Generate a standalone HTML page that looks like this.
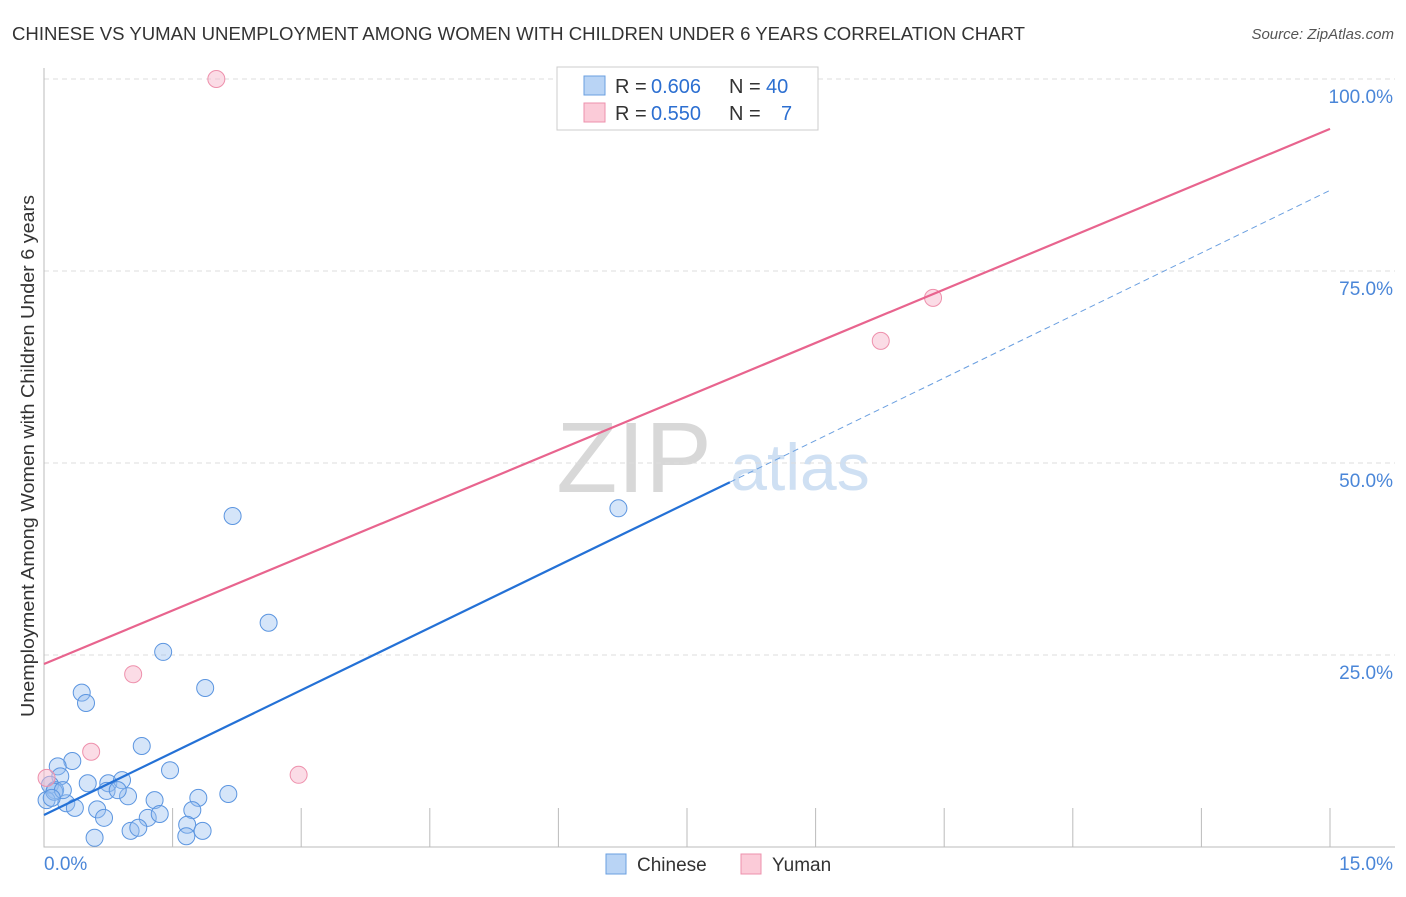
<!DOCTYPE html>
<html><head><meta charset="utf-8"><style>
body{margin:0;background:#fff;font-family:"Liberation Sans",sans-serif;}
svg text{font-family:"Liberation Sans",sans-serif;}
</style></head><body>
<svg id="c" width="1406" height="892">
<text x="12" y="40" font-size="18" fill="#333" textLength="1013" lengthAdjust="spacingAndGlyphs">CHINESE VS YUMAN UNEMPLOYMENT AMONG WOMEN WITH CHILDREN UNDER 6 YEARS CORRELATION CHART</text>
<text x="1394" y="39" font-size="15" fill="#555" font-style="italic" text-anchor="end">Source: ZipAtlas.com</text>
<text x="34" y="456" font-size="18" fill="#333" text-anchor="middle" textLength="522" lengthAdjust="spacingAndGlyphs" transform="rotate(-90 34 456)">Unemployment Among Women with Children Under 6 years</text>
<text x="634" y="492" font-size="100" fill="#d8d8d8" font-family="Liberation Serif" text-anchor="middle">ZIP</text>
<text x="800" y="490" font-size="66" fill="#cfe0f3" text-anchor="middle">atlas</text>
<g id="grid"></g><g id="marks"></g>
<g>
<rect x="557" y="67" width="261" height="63" fill="#fff" stroke="#ccc"/>
<rect x="584" y="76" width="21" height="19" fill="#b9d4f5" stroke="#6a9fe0"/>
<rect x="584" y="103" width="21" height="19" fill="#fbcbd8" stroke="#ee90ac"/>
<text x="615" y="93" font-size="20" fill="#333">R =</text>
<text x="651" y="93" font-size="20" fill="#2c6fd1">0.606</text>
<text x="729" y="93" font-size="20" fill="#333">N =</text>
<text x="766" y="93" font-size="20" fill="#2c6fd1">40</text>
<text x="615" y="120" font-size="20" fill="#333">R =</text>
<text x="651" y="120" font-size="20" fill="#2c6fd1">0.550</text>
<text x="729" y="120" font-size="20" fill="#333">N =</text>
<text x="781" y="120" font-size="20" fill="#2c6fd1">7</text>
</g>
<g>
<rect x="606" y="854" width="20" height="20" fill="#b9d4f5" stroke="#6a9fe0"/>
<text x="637" y="871" font-size="19" fill="#333">Chinese</text>
<rect x="741" y="854" width="20" height="20" fill="#fbcbd8" stroke="#ee90ac"/>
<text x="772" y="871" font-size="19" fill="#333">Yuman</text>
</g>
</svg>
<script>
const chineseX=[2.20,6.70,2.62,1.39,1.88,0.44,0.49,1.14,1.47,0.33,0.16,0.19,0.51,0.75,0.91,0.07,0.13,0.03,0.26,0.62,0.36,0.70,0.98,0.73,0.86,1.29,1.80,2.15,1.21,1.35,1.73,1.67,1.01,1.10,1.85,1.66,0.59,0.12,0.22,0.09];
const chineseY=[43.1,44.1,29.2,25.4,20.7,20.1,18.75,13.15,10.0,11.2,10.5,9.2,8.3,8.3,8.7,8.1,7.4,6.1,5.7,4.9,5.1,3.8,6.6,7.3,7.4,6.1,6.4,6.9,3.8,4.3,4.8,2.9,2.1,2.5,2.1,1.4,1.2,7.2,7.4,6.4];
const yumanX=[2.01,10.37,9.76,1.04,0.55,2.97,0.03];
const yumanY=[100,71.5,65.9,22.5,12.4,9.4,9.0];
const yTicks=[25,50,75,100];
const chineseTrend=[4.17,47.5,85.5]; // at x=0, 8, 15
const yumanTrend=[23.83,93.5]; // at x=0, 15
const NS="http://www.w3.org/2000/svg";
const sx=v=>44+v/15*1286, sy=v=>847-v*7.68;
function mk(t,a,p){const e=document.createElementNS(NS,t);for(const k in a)e.setAttribute(k,a[k]);p.appendChild(e);return e;}
const g=document.getElementById('grid'),m=document.getElementById('marks');
yTicks.forEach(t=>{
 const l=mk('line',{x1:44,x2:1395,y1:sy(t),y2:sy(t),stroke:'#ddd','stroke-dasharray':'5,4'},g);
 
 
 const tx=mk('text',{x:1393,y:sy(t)+24,'font-size':19,fill:'#4a86d8','text-anchor':'end'},g);
 tx.textContent=t.toFixed(1)+'%';
 
 
});
for(let i=1;i<=10;i++){const x=sx(i*1.5);const l=mk('line',{x1:x,x2:x,y1:808,y2:847,stroke:'#bbb'},g);
 
 }
const ax=mk('path',{d:'M44 68V847H1395',fill:'none',stroke:'#bbb'},g);


[['0.0%',44,'start'],['15.0%',1393,'end']].forEach(a=>{const t=mk('text',{x:a[1],y:870,'font-size':19,fill:'#4a86d8','text-anchor':a[2]},g);t.textContent=a[0];
 
 });
chineseX.forEach((x,i)=>{const c=mk('circle',{cx:sx(x),cy:sy(chineseY[i]),r:8.5,fill:'rgba(150,190,240,0.4)',stroke:'#5b95e0','stroke-width':1},m);
 
 });
yumanX.forEach((x,i)=>{const c=mk('circle',{cx:sx(x),cy:sy(yumanY[i]),r:8.5,fill:'rgba(248,185,205,0.5)',stroke:'#ee90ac','stroke-width':1},m);
 
 });
let l=mk('line',{x1:sx(0),y1:sy(yumanTrend[0]),x2:sx(15),y2:sy(yumanTrend[1]),stroke:'#e8648e','stroke-width':2.2},m);


l=mk('line',{x1:sx(0),y1:sy(chineseTrend[0]),x2:sx(8),y2:sy(chineseTrend[1]),stroke:'#2471d6','stroke-width':2.2},m);


l=mk('line',{x1:sx(8),y1:sy(chineseTrend[1]),x2:sx(15),y2:sy(chineseTrend[2]),stroke:'#6a9fe0','stroke-width':1,'stroke-dasharray':'6,4'},m);


</script>
</body></html>
